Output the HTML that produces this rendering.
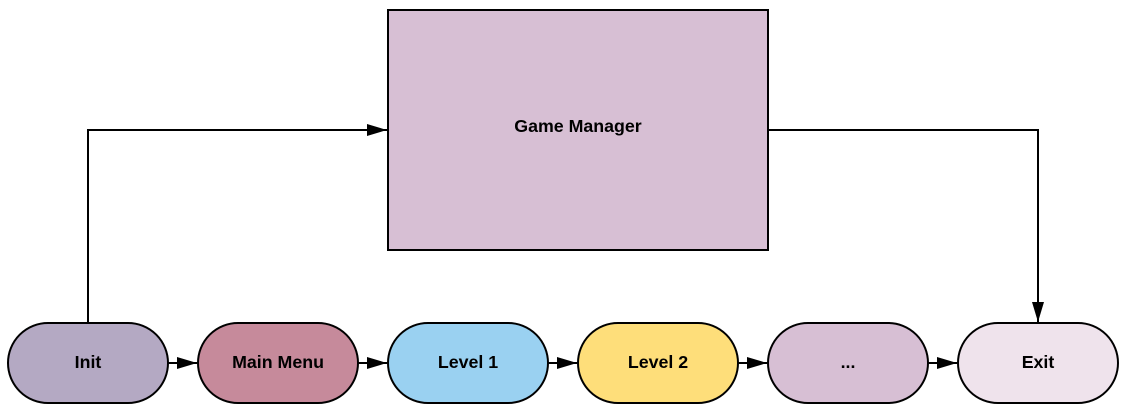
<!DOCTYPE html>
<html><head><style>body{margin:0;background:#fff}</style></head><body>
<svg width="1125" height="413" xmlns="http://www.w3.org/2000/svg" font-family="Liberation Sans, sans-serif" font-weight="bold" font-size="17.8">
<defs><marker id="b" markerWidth="20" markerHeight="12" refX="20" refY="6" orient="auto" markerUnits="userSpaceOnUse"><path d="M0,0 L20,6 L0,12 z" fill="#000"/></marker></defs>
<rect x="388" y="10" width="380" height="240" fill="#d7bfd4" stroke="#000" stroke-width="2"/>
<text x="578" y="132" text-anchor="middle">Game Manager</text>
<path d="M88,323 V130 H387" fill="none" stroke="#000" stroke-width="2" marker-end="url(#b)"/>
<path d="M768,130 H1038 V322" fill="none" stroke="#000" stroke-width="2" marker-end="url(#b)"/>
<g stroke="#000" stroke-width="2">
<rect x="8" y="323" width="160" height="80" rx="40" fill="#b4a9c3"/>
<rect x="198" y="323" width="160" height="80" rx="40" fill="#c68a9b"/>
<rect x="388" y="323" width="160" height="80" rx="40" fill="#9ad1f1"/>
<rect x="578" y="323" width="160" height="80" rx="40" fill="#fede7a"/>
<rect x="768" y="323" width="160" height="80" rx="40" fill="#d7bfd4"/>
<rect x="958" y="323" width="160" height="80" rx="40" fill="#efe3ec"/>
</g>
<g stroke="#000" stroke-width="2" marker-end="url(#b)">
<line x1="168" y1="363" x2="197" y2="363"/>
<line x1="358" y1="363" x2="387" y2="363"/>
<line x1="548" y1="363" x2="577" y2="363"/>
<line x1="738" y1="363" x2="767" y2="363"/>
<line x1="928" y1="363" x2="957" y2="363"/>
</g>
<g text-anchor="middle">
<text x="88" y="368">Init</text>
<text x="278" y="368">Main Menu</text>
<text x="468" y="368">Level 1</text>
<text x="658" y="368">Level 2</text>
<text x="848" y="368">...</text>
<text x="1038" y="368">Exit</text>
</g>
</svg>
</body></html>
